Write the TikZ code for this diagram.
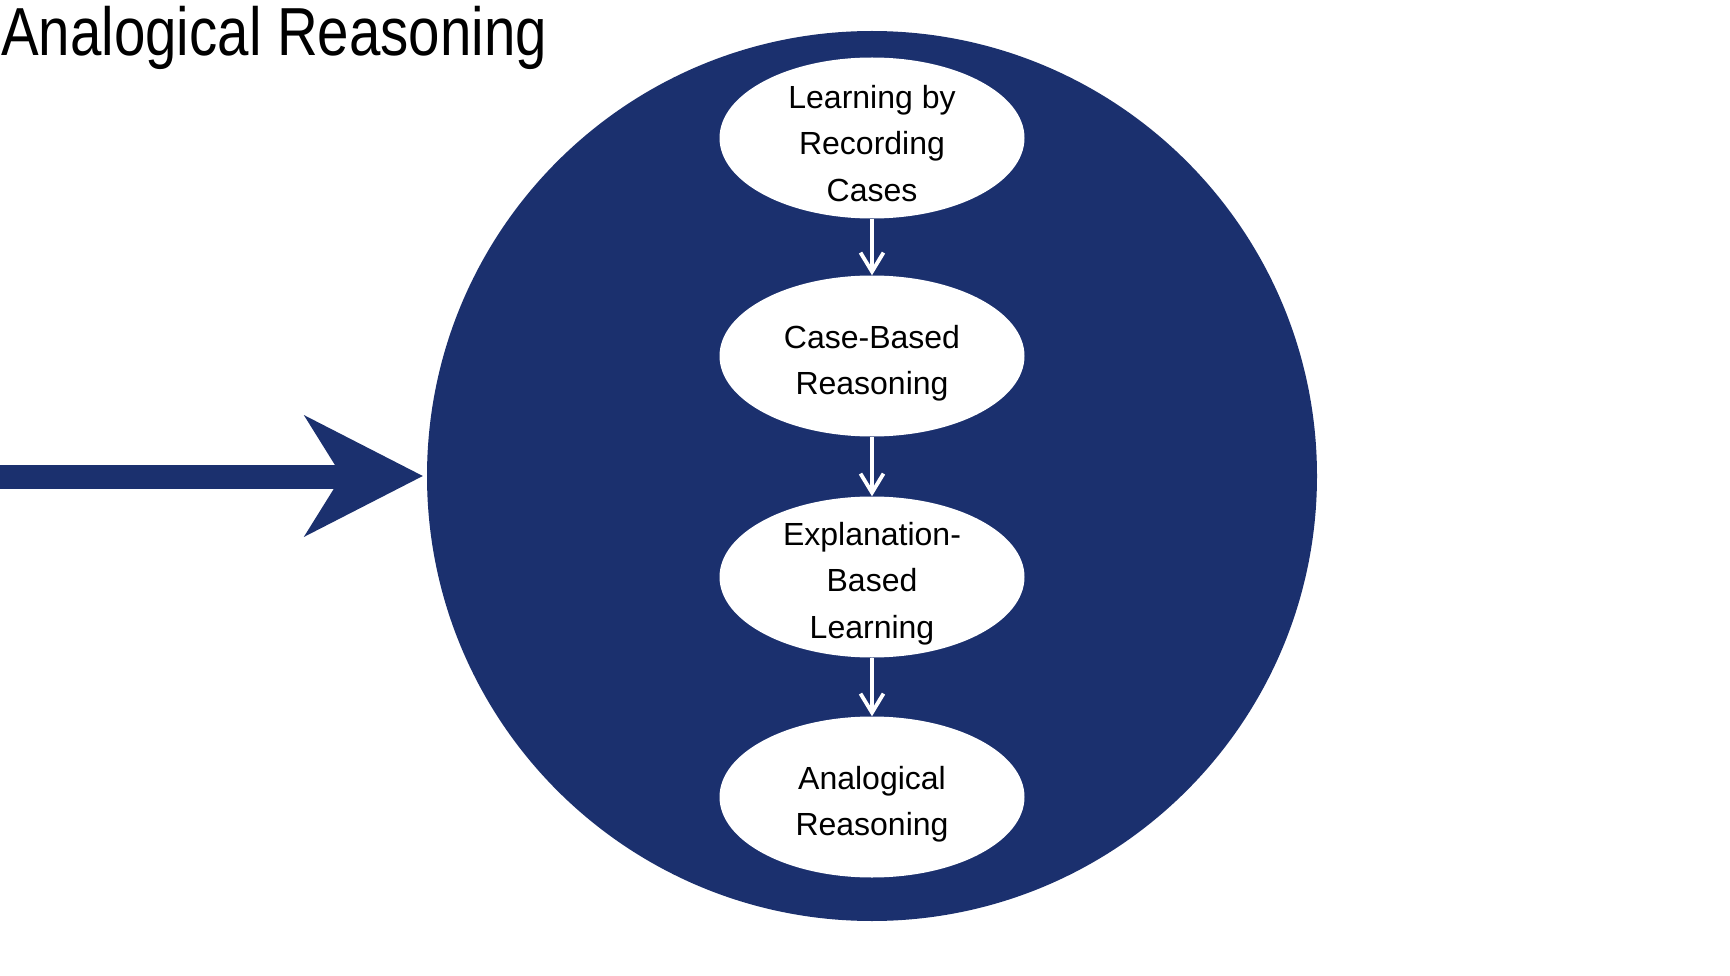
\documentclass[tikz,border=0pt]{standalone}
\usepackage{fontspec}
\setmainfont{Liberation Sans}
\newfontfamily\titlefont[FakeStretch=0.83]{Liberation Sans}
\usetikzlibrary{shapes.geometric,arrows.meta}
\definecolor{navy}{RGB}{27,48,110}
\tikzset{
  bigcirc/.style={circle, fill=navy, minimum size=890pt, inner sep=0pt},
  ell/.style={ellipse, fill=white, minimum width=305pt, minimum height=161pt, inner sep=0pt},
  etext/.style={font=\fontsize{32}{46.5}\selectfont, align=center, text=black, inner sep=0pt},
  flowarrow/.style={draw=white, line width=3.8pt, -{Straight Barb[length=19pt,width=23pt]}},
  blockarrow/.style={fill=navy}
}
\begin{document}
\begin{tikzpicture}[x=1pt,y=-1pt]
\fill[white] (0,0) rectangle (1730,976);
\useasboundingbox (0,0) rectangle (1730,976);

\node[anchor=base west, inner sep=0pt, font=\titlefont\fontsize{68}{80}\selectfont] (title) at (1,56) {Analogical Reasoning};

\node[bigcirc] (circ) at (872,476) {};

\node[ell] (e1) at (872,138) {};
\node[ell] (e2) at (872,356) {};
\node[ell] (e3) at (872,577) {};
\node[ell] (e4) at (872,797) {};

\node[etext] (t1) at ([yshift=-5.5pt]e1.center) {Learning by\\Recording\\Cases};
\node[etext] (t2) at ([yshift=-7pt]e2.center) {Case-Based\\Reasoning};
\node[etext] (t3) at ([yshift=-6.5pt]e3.center) {Explanation-\\Based\\Learning};
\node[etext] (t4) at ([yshift=-7pt]e4.center) {Analogical\\Reasoning};

\draw[flowarrow] (e1) -- (e2);
\draw[flowarrow] (e2) -- (e3);
\draw[flowarrow] (e3) -- (e4);

% block arrow pointing at the circle
\coordinate (tip) at ([xshift=-4pt]circ.west);
\coordinate (tail) at (0,477);
\fill[blockarrow] ([yshift=12.5pt]tail) rectangle ([xshift=-75pt,yshift=-12.5pt]tip);
\fill[blockarrow] (tip) -- ++(-119,-61) -- ++(38,61) -- ++(-38,61) -- cycle;
\end{tikzpicture}
\end{document}
